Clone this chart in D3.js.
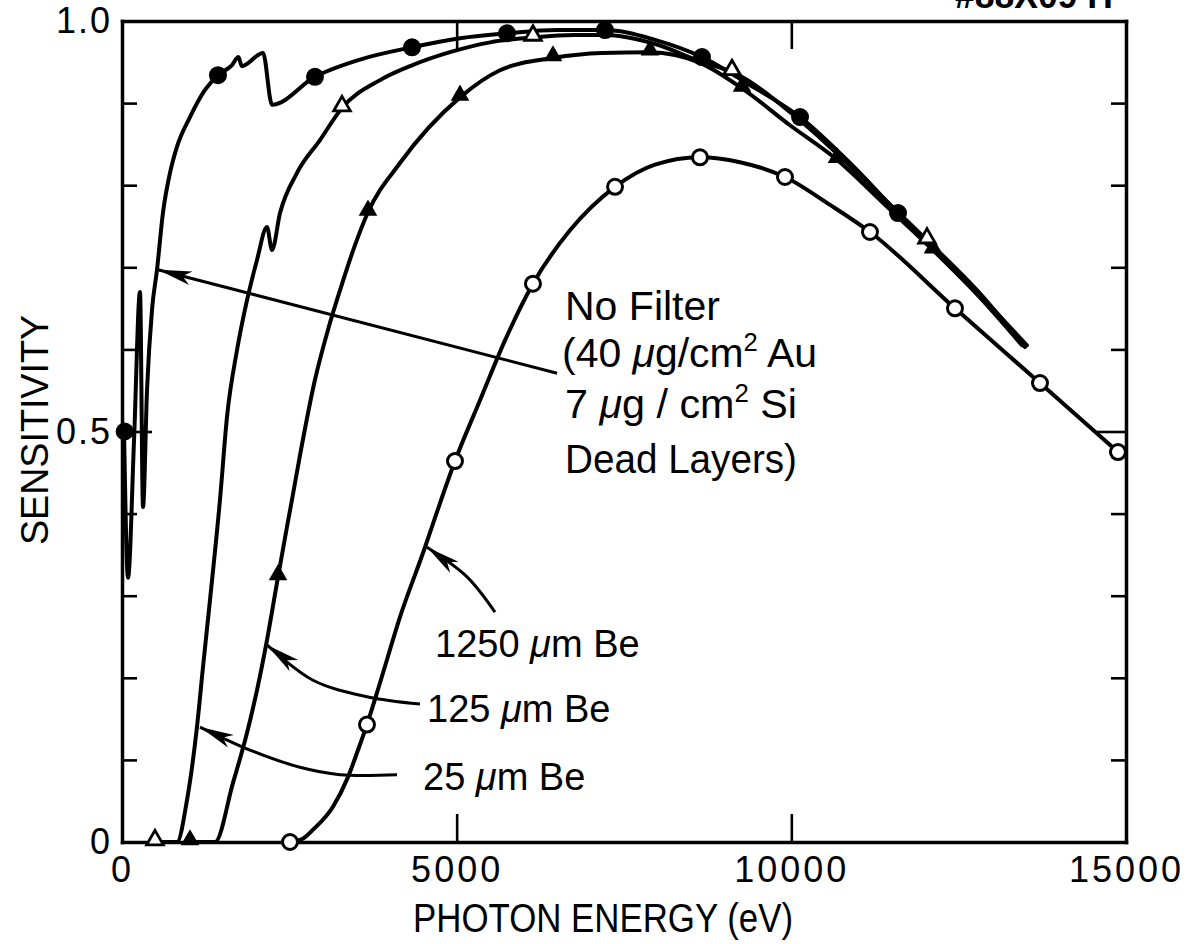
<!DOCTYPE html>
<html>
<head>
<meta charset="utf-8">
<script src="https://cdn.jsdelivr.net/npm/d3@7"></script>
<style>
  html, body { margin: 0; padding: 0; background: #fff; }
  svg { display: block; }
  .lbl { font-family: "Liberation Sans Narrow", "Liberation Sans", Arial, sans-serif; fill: #000; }
  .num { font-family: "Liberation Sans", Arial, sans-serif; fill: #000; }
</style>
</head>
<body>
<svg id="chart" width="1198" height="944"></svg>
<script>
// ---- axis ticks and labels ----
const energyTicks = [0, 5000, 10000, 15000];
const energyTickLabels = ["0", "5000", "10000", "15000"];
const sensTicks = [0, 0.1, 0.2, 0.3, 0.4, 0.5, 0.6, 0.7, 0.8, 0.9, 1.0];
const sensTickLabels = ["0", "", "", "", "", "0.5", "", "", "", "", "1.0"];

// ---- curves: [photon energy (eV), sensitivity] ----
// No filter (40 ug/cm2 Au, 7 ug/cm2 Si dead layers)
const noFilterLine = [
  [30, 0.502], [90, 0.322], [180, 0.49], [269, 0.670], [314, 0.408], [374, 0.551],
  [448, 0.648], [523, 0.697], [613, 0.767], [717, 0.815], [822, 0.847], [1016, 0.883],
  [1240, 0.916], [1434, 0.934], [1640, 0.946], [1740, 0.956], [1790, 0.945], [2107, 0.961],
  [2241, 0.898], [2883, 0.932], [3556, 0.953], [4333, 0.968], [5050, 0.979], [5752, 0.985],
  [6500, 0.989], [7216, 0.989], [7963, 0.977], [8665, 0.956], [9382, 0.922], [10130, 0.883],
  [10876, 0.827], [11594, 0.766], [12520, 0.691], [13520, 0.605]
];
const noFilterMarks = [
  [40, 0.50], [1434, 0.934], [2883, 0.932], [4333, 0.968], [5752, 0.985],
  [7216, 0.989], [8665, 0.956], [10130, 0.883], [11594, 0.766]
];

// 25 um Be
const be25Line = [
  [493, 0], [822, 0], [971, 0.051], [1120, 0.140], [1210, 0.213], [1315, 0.295],
  [1464, 0.417], [1569, 0.518], [1718, 0.599], [1868, 0.660], [2017, 0.709], [2166, 0.749],
  [2241, 0.721], [2361, 0.766], [2615, 0.815], [2958, 0.855], [3287, 0.894], [3855, 0.928],
  [4333, 0.946], [4900, 0.962], [5500, 0.974], [6140, 0.980], [6750, 0.983], [7216, 0.983],
  [7963, 0.972], [8665, 0.950], [9113, 0.938], [10130, 0.879], [11300, 0.790], [12027, 0.733],
  [12820, 0.668], [13490, 0.603]
];
const be25Marks = [[493, 0], [3287, 0.894], [6140, 0.980], [9113, 0.938], [12027, 0.733]];

// 125 um Be
const be125Line = [
  [1016, 0], [1390, 0], [1658, 0.072], [1868, 0.133], [2017, 0.185], [2166, 0.246],
  [2331, 0.323], [2465, 0.384], [2540, 0.417], [2659, 0.471], [2883, 0.563], [3078, 0.624],
  [3257, 0.672], [3481, 0.727], [3675, 0.767], [4153, 0.827], [5050, 0.907], [5647, 0.940],
  [6439, 0.955], [7170, 0.961], [7888, 0.962], [8635, 0.949], [9263, 0.918], [9980, 0.873],
  [10682, 0.831], [11400, 0.776], [12116, 0.721], [12820, 0.663], [13446, 0.605]
];
const be125Marks = [
  [1016, 0], [2331, 0.323], [3675, 0.767], [5050, 0.907], [6439, 0.955],
  [7888, 0.962], [9263, 0.918], [10682, 0.831], [12116, 0.721]
];

// 1250 um Be
const be1250Line = [
  [2510, 0], [2700, 0.004], [2854, 0.015], [3152, 0.043], [3376, 0.079], [3526, 0.112],
  [3660, 0.143], [3855, 0.194], [4153, 0.274], [4527, 0.359], [4706, 0.402], [4975, 0.464],
  [5349, 0.538], [5722, 0.611], [6140, 0.680], [6693, 0.745], [7366, 0.798], [7963, 0.825],
  [8635, 0.834], [9233, 0.828], [9905, 0.810], [10578, 0.776], [11175, 0.743], [12445, 0.650],
  [13715, 0.559], [14880, 0.475]
];
const be1250Marks = [
  [2510, 0], [3660, 0.143], [4975, 0.464], [6140, 0.680], [7366, 0.798], [8635, 0.834],
  [9905, 0.810], [11175, 0.743], [12445, 0.650], [13715, 0.559], [14880, 0.475]
];

// ---- leader arrows (tail ... tip), in data units ----
const noFilterArrow = [[6500, 0.571], [538, 0.697]];
const be1250Arrow = [[5573, 0.280], [5154, 0.323], [4557, 0.359]];
const be125Arrow = [[4452, 0.168], [3660, 0.177], [2854, 0.197], [2166, 0.240]];
const be25Arrow = [[4109, 0.082], [3257, 0.082], [2659, 0.091], [1912, 0.112], [1165, 0.140]];

// ---------------------------------------------------------------
const svg = d3.select("#chart");
svg.append("rect").attr("width", 1198).attr("height", 944).attr("fill", "#fff");

const x = d3.scaleLinear().domain([0, 15000]).range([122, 1126]);
const y = d3.scaleLinear().domain([0, 1]).range([842, 21]);

const AXW = 3.5;

// bottom axis with labels
const gB = svg.append("g").attr("transform", `translate(0,${y(0)})`)
  .call(d3.axisBottom(x).tickValues(energyTicks)
    .tickFormat((d, i) => energyTickLabels[i])
    .tickSizeInner(-28).tickSizeOuter(0).tickPadding(14));
gB.selectAll(".tick").filter(d => d === 0 || d === 15000).select("line").remove();

// top axis
const gT = svg.append("g").attr("transform", `translate(0,${y(1)})`)
  .call(d3.axisTop(x).tickValues([5000, 10000]).tickFormat("")
    .tickSizeInner(-28).tickSizeOuter(0));

// left axis with labels
const gL = svg.append("g").attr("transform", `translate(${x(0)},0)`)
  .call(d3.axisLeft(y).tickValues(sensTicks)
    .tickFormat((d, i) => sensTickLabels[i])
    .tickSizeInner(-15).tickSizeOuter(0).tickPadding(10));
gL.selectAll(".tick").filter(d => d === 0 || d === 1).select("line").remove();
gL.selectAll(".tick").filter(d => Math.abs(d - 0.5) < 1e-9).select("line").attr("x2", 30);

// right axis
const gR = svg.append("g").attr("transform", `translate(${x(15000)},0)`)
  .call(d3.axisRight(y).tickValues(sensTicks).tickFormat("")
    .tickSizeInner(-15).tickSizeOuter(0));
gR.selectAll(".tick").filter(d => d === 0 || d === 1).select("line").remove();
gR.selectAll(".tick").filter(d => Math.abs(d - 0.5) < 1e-9).select("line").attr("x2", -30);

[gB, gT, gL, gR].forEach(g => {
  g.select(".domain").attr("stroke", "#000").attr("stroke-width", AXW).attr("stroke-linecap", "square");
  g.selectAll(".tick line").attr("stroke", "#000").attr("stroke-width", 2.6);
  g.selectAll(".tick text").attr("class", "num").attr("font-size", 36)
    .attr("letter-spacing", 3).attr("fill", "#000");
});
gL.selectAll(".tick text").attr("letter-spacing", 2);

// ---- data curves ----
const line = d3.line().x(d => x(d[0])).y(d => y(d[1])).curve(d3.curveMonotoneX);
const curves = [be1250Line, be125Line, be25Line, noFilterLine];
svg.append("g").selectAll("path").data(curves).join("path")
  .attr("d", line).attr("fill", "none").attr("stroke", "#000")
  .attr("stroke-width", 4).attr("stroke-linejoin", "round").attr("stroke-linecap", "round");

// ---- markers ----
const mk = svg.append("g");
mk.selectAll("circle.fc").data(noFilterMarks).join("circle").attr("class", "fc")
  .attr("cx", d => x(d[0])).attr("cy", d => y(d[1])).attr("r", 9).attr("fill", "#000");
mk.selectAll("circle.oc").data(be1250Marks).join("circle").attr("class", "oc")
  .attr("cx", d => x(d[0])).attr("cy", d => y(d[1])).attr("r", 7.5)
  .attr("fill", "#fff").attr("stroke", "#000").attr("stroke-width", 3);
const tri = d3.symbol().type(d3.symbolTriangle);
mk.selectAll("path.ft").data(be125Marks).join("path").attr("class", "ft")
  .attr("d", tri.size(150)()).attr("transform", d => `translate(${x(d[0])},${y(d[1]) - 2})`)
  .attr("fill", "#000");
mk.selectAll("path.ot").data(be25Marks).join("path").attr("class", "ot")
  .attr("d", tri.size(120)()).attr("transform", d => `translate(${x(d[0])},${y(d[1]) - 2})`)
  .attr("fill", "#fff").attr("stroke", "#000").attr("stroke-width", 2.8).attr("stroke-linejoin", "miter");

// ---- leader arrows ----
const arrowLine = d3.line().x(d => x(d[0])).y(d => y(d[1])).curve(d3.curveCatmullRom.alpha(0.5));
const arrG = svg.append("g");
function drawArrow(pts) {
  arrG.append("path").attr("d", arrowLine(pts)).attr("fill", "none")
    .attr("stroke", "#000").attr("stroke-width", 3);
  const tip = pts[pts.length - 1], prev = pts[pts.length - 2];
  const tx = x(tip[0]), ty = y(tip[1]);
  let dx = tx - x(prev[0]), dy = ty - y(prev[1]);
  const len = Math.hypot(dx, dy); dx /= len; dy /= len;
  const nx = -dy, ny = dx, L = 34, W = 7, N = 9;
  const p = [
    [tx, ty],
    [tx - dx * L + nx * W, ty - dy * L + ny * W],
    [tx - dx * (L - N), ty - dy * (L - N)],
    [tx - dx * L - nx * W, ty - dy * L - ny * W]
  ];
  arrG.append("path").attr("d", "M" + p.map(q => q.join(",")).join("L") + "Z").attr("fill", "#000");
}
[noFilterArrow, be1250Arrow, be125Arrow, be25Arrow].forEach(drawArrow);

// ---- annotation text ----
function label(xp, yp, parts, len, size) {
  const t = svg.append("text").attr("class", "lbl").attr("x", xp).attr("y", yp)
    .attr("font-size", size || 40);
  parts.forEach(p => {
    const s = t.append("tspan").text(p.t);
    if (p.it) s.attr("font-style", "italic");
    if (p.sup) s.attr("font-size", 25).attr("dy", -16);
    if (p.down) s.attr("dy", 16);
  });
  if (len) t.attr("textLength", len).attr("lengthAdjust", "spacingAndGlyphs");
  return t;
}
label(565, 320, [{ t: "No Filter" }], 155);
label(562, 367, [{ t: "(40 " }, { t: "\u03bc", it: true }, { t: "g/cm" }, { t: "2", sup: true }, { t: " Au", down: true }], 255);
label(565, 418, [{ t: "7 " }, { t: "\u03bc", it: true }, { t: "g / cm" }, { t: "2", sup: true }, { t: " Si", down: true }], 232);
label(565, 473, [{ t: "Dead  Layers)" }], 232);
label(435, 657, [{ t: "1250 " }, { t: "\u03bc", it: true }, { t: "m Be" }], null, 38);
label(427, 722, [{ t: "125 " }, { t: "\u03bc", it: true }, { t: "m Be" }], null, 38);
label(423, 790, [{ t: "25 " }, { t: "\u03bc", it: true }, { t: "m Be" }], null, 38);

// axis titles
label(413, 932, [{ t: "PHOTON ENERGY (eV)" }], 380);
svg.append("text").attr("class", "lbl").attr("font-size", 38)
  .attr("transform", "translate(48,430) rotate(-90)")
  .attr("text-anchor", "middle").text("SENSITIVITY")
  .attr("textLength", 230).attr("lengthAdjust", "spacingAndGlyphs");

// drawing number, top right
svg.append("text").attr("class", "lbl").attr("font-size", 36).attr("font-weight", "bold")
  .attr("x", 955).attr("y", 8).text("#88X09 H")
  .attr("textLength", 158).attr("lengthAdjust", "spacingAndGlyphs");
</script>
</body>
</html>
